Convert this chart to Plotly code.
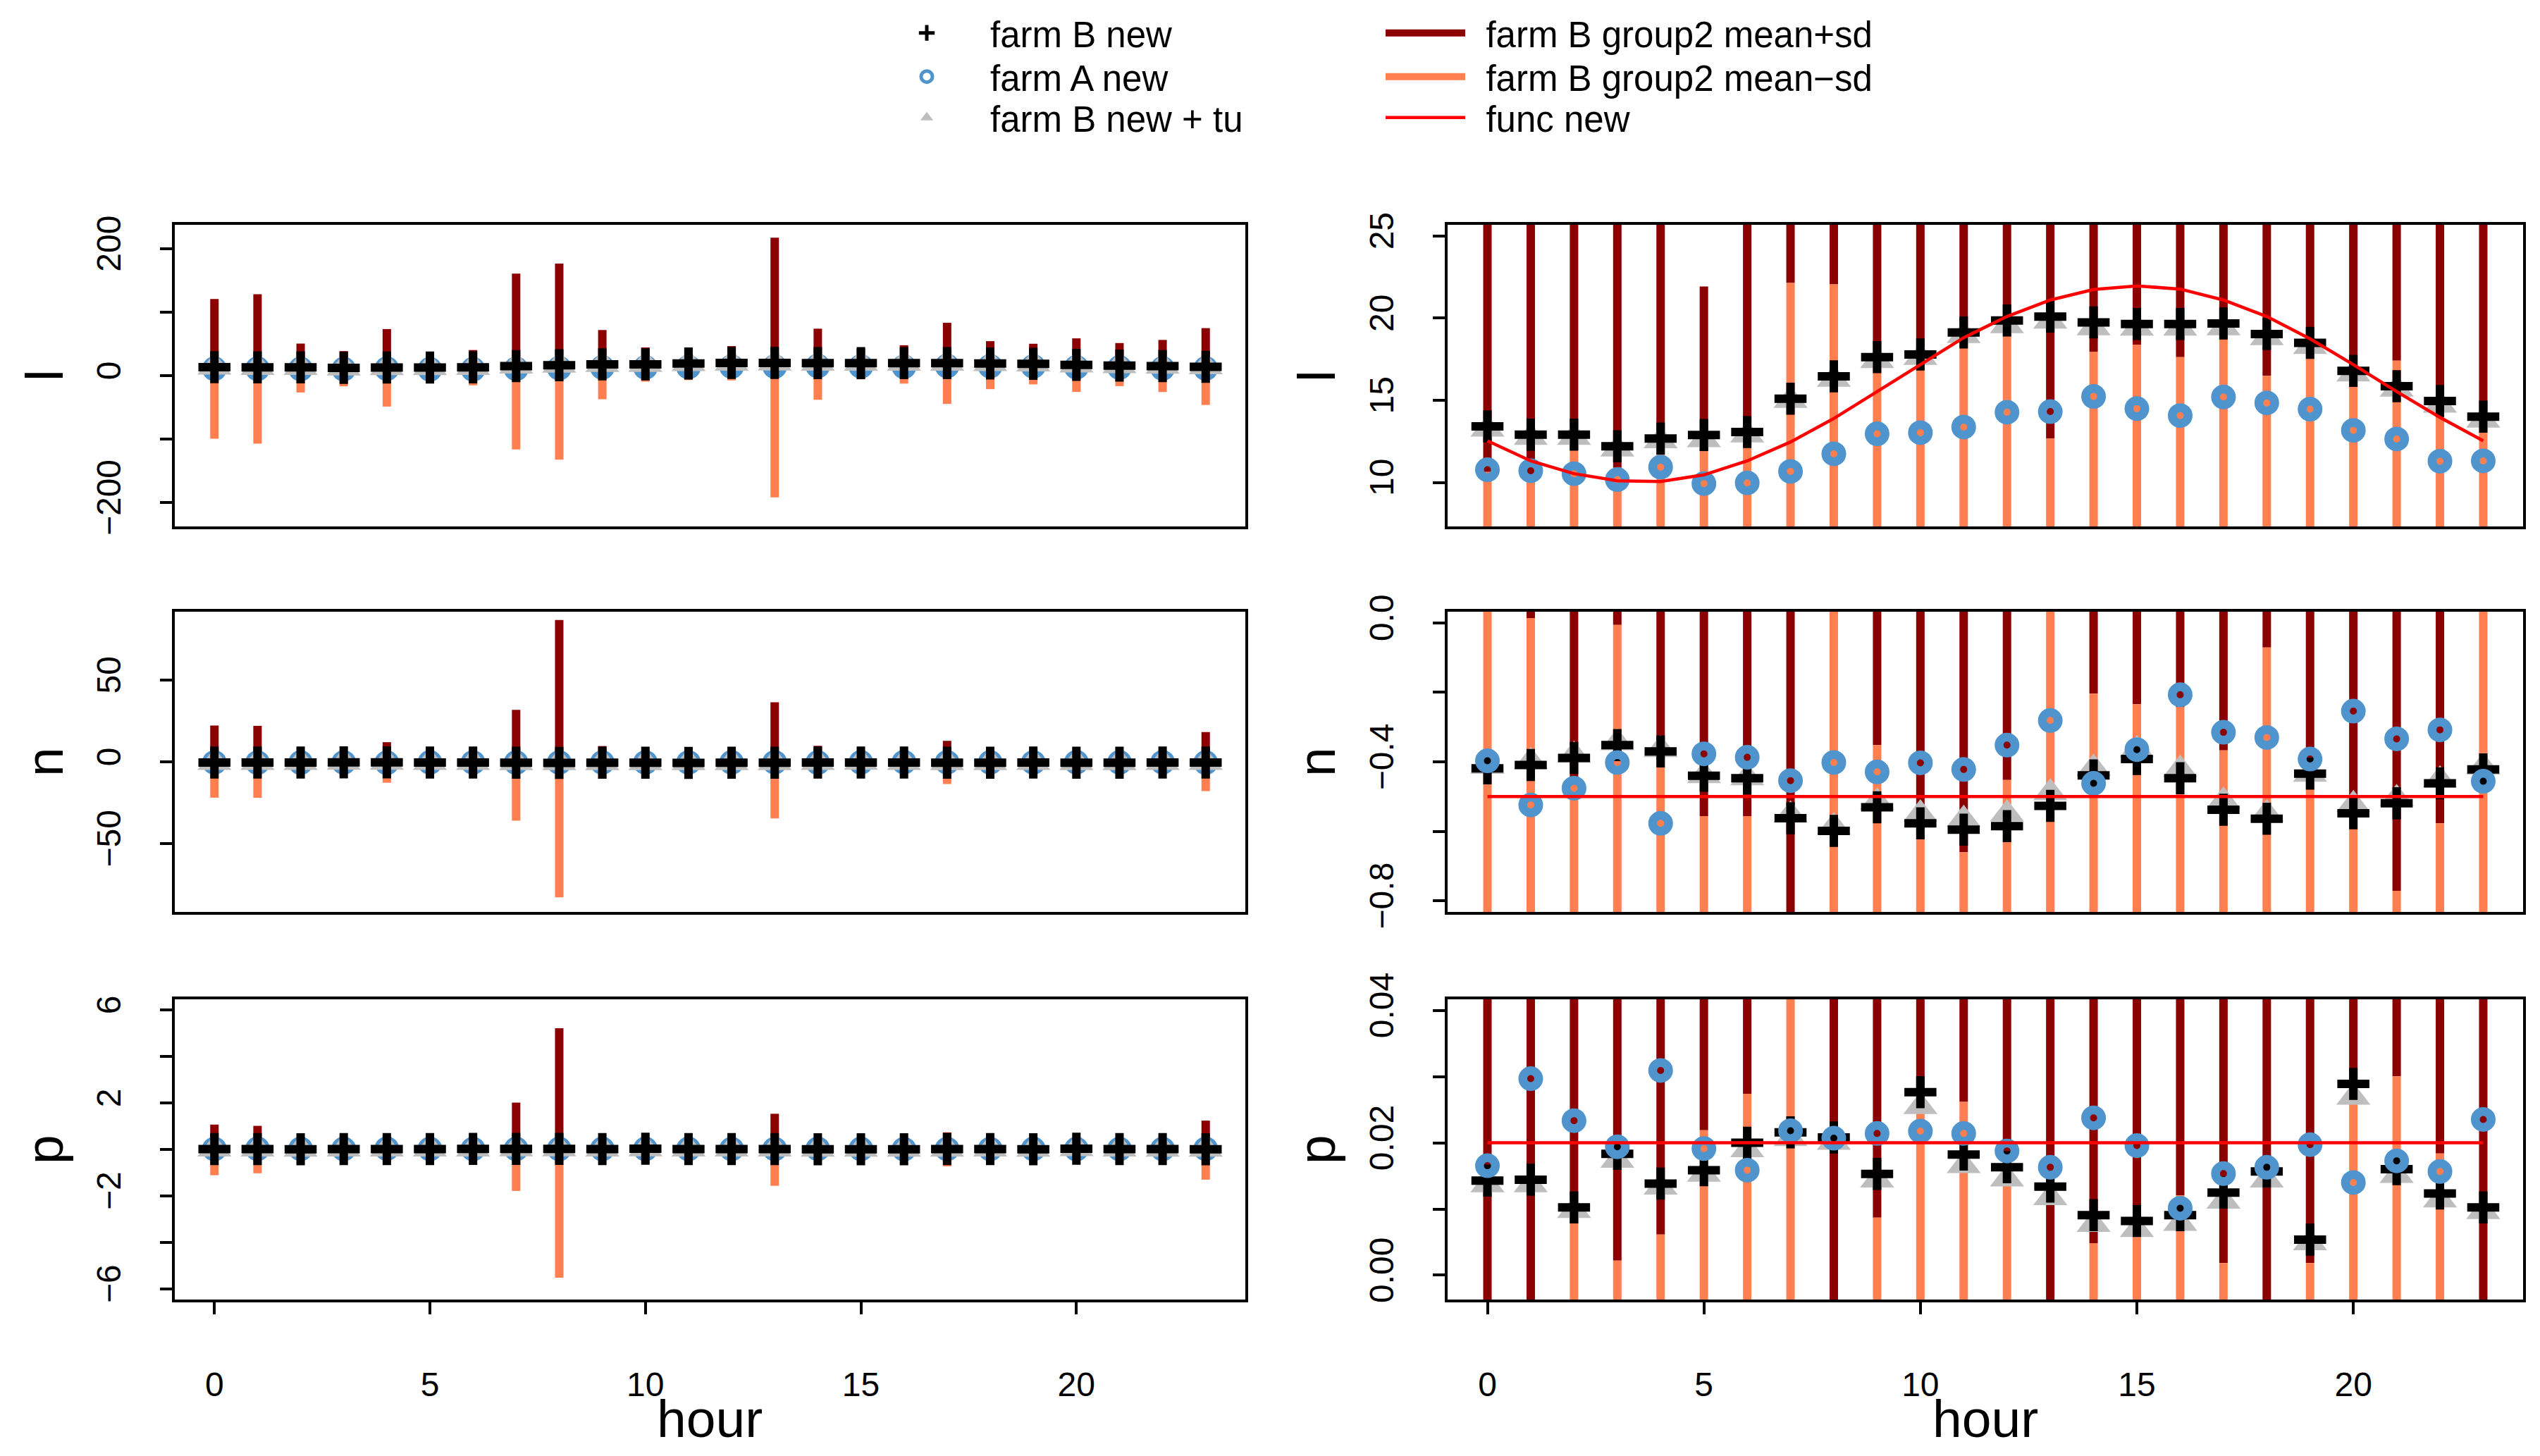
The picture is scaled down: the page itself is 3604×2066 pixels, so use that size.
import plotly.graph_objects as go

hours = list(range(24))

# ---------------- l ----------------
l_farmB_new = [13.41, 12.91, 12.91, 12.20, 12.67, 12.89, 13.07, 15.10, 16.46, 17.63, 17.79, 19.13,
               19.86, 20.09, 19.74, 19.64, 19.64, 19.67, 19.03, 18.50, 16.79, 15.86, 14.96, 14.00]
l_farmB_tu = [13.24, 12.74, 12.74, 12.03, 12.53, 12.60, 12.89, 14.99, 16.27, 17.41, 17.60, 18.93,
              19.53, 19.81, 19.41, 19.39, 19.39, 19.41, 18.81, 18.27, 16.60, 15.67, 14.70, 13.79]
l_farmA_new = [10.77, 10.71, 10.53, 10.17, 10.93, 9.93, 9.97, 10.67, 11.74, 12.96, 13.03, 13.37,
               14.27, 14.31, 15.23, 14.49, 14.07, 15.20, 14.84, 14.46, 13.17, 12.64, 11.29, 11.31]
l_func = [12.53, 11.31, 10.53, 10.10, 10.06, 10.46, 11.31, 12.46, 13.89, 15.53, 17.17, 18.81,
          20.10, 21.10, 21.74, 21.96, 21.77, 21.10, 20.10, 18.74, 17.17, 15.53, 13.96, 12.53]
l_g2_mean = [10.63, 10.46, 11.96, 10.89, 12.30, 11.89, 12.50, 22.14, 22.06, 17.30, 17.50, 18.60,
             19.50, 12.67, 17.96, 18.39, 17.63, 19.30, 16.49, 18.20, 16.50, 17.41, 15.20, 14.30]
l_g2_sd = [110.0, 117.6, 38.5, 27.8, 61.0, 10.04, 27.8, 138.4, 154.5, 54.5, 26.9, 25.6,
           27.0, 204.5, 56.0, 24.3, 30.2, 63.9, 37.8, 32.0, 42.2, 33.9, 41.0, 60.5]

# ---------------- n ----------------
n_farmB_new = [-0.419, -0.409, -0.389, -0.352, -0.370, -0.440, -0.447, -0.562, -0.599, -0.531, -0.577, -0.595,
               -0.585, -0.527, -0.439, -0.392, -0.447, -0.538, -0.564, -0.434, -0.548, -0.519, -0.462, -0.422]
n_farmB_tu = [-0.413, -0.399, -0.381, -0.345, -0.365, -0.440, -0.446, -0.553, -0.587, -0.516, -0.550, -0.566,
              -0.550, -0.489, -0.419, -0.365, -0.422, -0.513, -0.550, -0.436, -0.523, -0.506, -0.452, -0.415]
n_farmA_new = [-0.397, -0.524, -0.476, -0.402, -0.577, -0.377, -0.387, -0.454, -0.402, -0.429, -0.403, -0.422,
               -0.352, -0.281, -0.462, -0.365, -0.207, -0.315, -0.330, -0.392, -0.254, -0.334, -0.308, -0.456]
n_func = [-0.5, -0.5, -0.5, -0.5, -0.5, -0.5, -0.5, -0.5, -0.5, -0.5, -0.5, -0.5,
          -0.5, -0.5, -0.5, -0.5, -0.5, -0.5, -0.5, -0.5, -0.5, -0.5, -0.5, -0.5]
n_g2_mean = [0.15, 0.014, -0.45, -0.006, -0.39, -0.556, -0.556, -2.1, 1.9, -0.352, -0.55, -0.660,
             -0.452, 0.9, -0.204, -0.234, -0.243, -0.367, -0.071, -0.43, -0.55, -0.771, -0.577, 0.15]
n_g2_sd = [22.05, 22.0, 6.0, 5.0, 12.4, 4.0, 5.0, 33.9, 84.8, 10.0, 6.0, 4.0,
           5.0, 35.5, 10.0, 4.0, 6.0, 13.2, 5.0, 4.0, 6.0, 5.0, 7.0, 18.05]

# ---------------- p ----------------
p_farmB_new = [0.01429, 0.01443, 0.01023, 0.01834, 0.01383, 0.01587, 0.02000, 0.02159, 0.02081, 0.01531, 0.02765, 0.01824,
               0.01630, 0.01337, 0.00907, 0.00818, 0.00907, 0.01249, 0.01566, 0.00536, 0.02889, 0.01601, 0.01235, 0.01023]
p_farmB_tu = [0.01365, 0.01365, 0.00977, 0.01735, 0.01330, 0.01524, 0.01894, 0.02063, 0.02007, 0.01436, 0.02547, 0.01654,
              0.01453, 0.01171, 0.00765, 0.00688, 0.00783, 0.01118, 0.01436, 0.00490, 0.02688, 0.01506, 0.01136, 0.00960]
p_farmA_new = [0.01654, 0.02970, 0.02335, 0.01940, 0.03093, 0.01912, 0.01587, 0.02183, 0.02070, 0.02141, 0.02176, 0.02141,
               0.01877, 0.01630, 0.02377, 0.01958, 0.01012, 0.01534, 0.01630, 0.01972, 0.01400, 0.01728, 0.01566, 0.02353]
p_func = [0.02, 0.02, 0.02, 0.02, 0.02, 0.02, 0.02, 0.02, 0.02, 0.02, 0.02, 0.02,
          0.02, 0.02, 0.02, 0.02, 0.02, 0.02, 0.02, 0.02, 0.02, 0.02, 0.02, 0.02]
p_g2_mean = [-0.02, -0.005, 0.00783, 0.00219, 0.00614, 0.0219, 0.0274, 0.115, -0.15, 0.00871, 0.027, 0.0262,
             0.0175, -0.015, 0.00483, 0.006, 0.01206, 0.00183, -0.01, 0.00183, 0.027, 0.03005, 0.0184, -0.03]
p_g2_sd = [1.09, 1.02, 0.35, 0.30, 0.45, 0.40, 0.50, 1.90, 5.37, 0.30, 0.40, 0.35,
           0.50, 1.55, 0.30, 0.45, 0.40, 0.73, 0.40, 0.35, 0.50, 0.30, 0.40, 1.27]

# ---------------- axes: ranges and tick labels ----------------
x_range = [-0.92, 23.92]
x_tickvals = [0, 5, 10, 15, 20]
x_ticktext = ["0", "5", "10", "15", "20"]

l_left_range = [-237.5, 237.5]
l_left_tickvals = [-200, -100, 0, 100, 200]
l_left_ticktext = ["\u2212200", "", "0", "", "200"]
l_right_range = [7.32, 25.68]
l_right_tickvals = [10, 15, 20, 25]
l_right_ticktext = ["10", "15", "20", "25"]

n_left_range = [-91.8, 91.8]
n_left_tickvals = [-50, 0, 50]
n_left_ticktext = ["\u221250", "0", "50"]
n_right_range = [-0.832, 0.032]
n_right_tickvals = [-0.8, -0.6, -0.4, -0.2, 0.0]
n_right_ticktext = ["\u22120.8", "", "\u22120.4", "", "0.0"]

p_left_range = [-6.46, 6.46]
p_left_tickvals = [-6, -4, -2, 0, 2, 4, 6]
p_left_ticktext = ["\u22126", "", "\u22122", "", "2", "", "6"]
p_right_range = [-0.00368, 0.04168]
p_right_tickvals = [0.0, 0.01, 0.02, 0.03, 0.04]
p_right_ticktext = ["0.00", "", "0.02", "", "0.04"]

var_names = ["l", "n", "p"]
x_title = "hour"
legend_names = ["farm B new", "farm A new", "farm B new + tu",
                "farm B group2 mean+sd", "farm B group2 mean\u2212sd", "func new"]

DARKRED = "#8B0000"
CORAL = "#FF7F50"
BLUE = "#4F94CD"
GREY = "#BEBEBE"
RED = "#FF0000"
FONT = "Liberation Sans, Arial, Helvetica, sans-serif"

W, H = 3604, 2066
OFF = 8  # page body margin of the browser
def px_x(v):
    return (v - OFF) / W
def px_y(v):
    return 1 - (v - OFF) / H

col_dom = [(px_x(248), px_x(1767)), (px_x(2054), px_x(3580))]
row_dom = [(px_y(747), px_y(319)), (px_y(1294), px_y(868)), (px_y(1844), px_y(1418))]

rows = [
    dict(B=l_farmB_new, T=l_farmB_tu, A=l_farmA_new, f=l_func, m=l_g2_mean, s=l_g2_sd,
         axes=[(l_left_range, l_left_tickvals, l_left_ticktext), (l_right_range, l_right_tickvals, l_right_ticktext)]),
    dict(B=n_farmB_new, T=n_farmB_tu, A=n_farmA_new, f=n_func, m=n_g2_mean, s=n_g2_sd,
         axes=[(n_left_range, n_left_tickvals, n_left_ticktext), (n_right_range, n_right_tickvals, n_right_ticktext)]),
    dict(B=p_farmB_new, T=p_farmB_tu, A=p_farmA_new, f=p_func, m=p_g2_mean, s=p_g2_sd,
         axes=[(p_left_range, p_left_tickvals, p_left_ticktext), (p_right_range, p_right_tickvals, p_right_ticktext)]),
]

NB = "\u00a0\u2009"

fig = go.Figure()
layout = {}
k = 0
for r, row in enumerate(rows):
    for c in range(2):
        k += 1
        xa = "x" if k == 1 else f"x{k}"
        ya = "y" if k == 1 else f"y{k}"
        first = (k == 2)
        up_x, up_y, lo_x, lo_y = [], [], [], []
        for h, m, s in zip(hours, row["m"], row["s"]):
            up_x += [h, h, None]
            up_y += [m, m + s, None]
            lo_x += [h, h, None]
            lo_y += [m - s, m, None]
        seg_up = go.Scatter(x=up_x, y=up_y, mode="lines", xaxis=xa, yaxis=ya,
                            line=dict(color=DARKRED, width=12),
                            name=NB + legend_names[3], legend="legend4",
                            showlegend=first, hoverinfo="skip")
        seg_lo = go.Scatter(x=lo_x, y=lo_y, mode="lines", xaxis=xa, yaxis=ya,
                            line=dict(color=CORAL, width=12),
                            name=NB + legend_names[4], legend="legend5",
                            showlegend=first, hoverinfo="skip")
        tri = go.Scatter(x=hours, y=row["T"], mode="markers", xaxis=xa, yaxis=ya,
                         marker=dict(symbol="triangle-up", size=42, color=GREY, line=dict(width=0)),
                         name=legend_names[2], legend="legend3", showlegend=first)
        plus = go.Scatter(x=hours, y=row["B"], mode="markers", xaxis=xa, yaxis=ya,
                          marker=dict(symbol="cross-thin", size=32.5, color="black",
                                      line=dict(width=12, color="black")),
                          name=legend_names[0], legend="legend", showlegend=first)
        circ = go.Scatter(x=hours, y=row["A"], mode="markers", xaxis=xa, yaxis=ya,
                          marker=dict(symbol="circle-open", size=22.5, color=BLUE,
                                      line=dict(width=12.5, color=BLUE)),
                          name=legend_names[1], legend="legend2", showlegend=first)
        if c == 0:
            for t in (seg_up, seg_lo, circ, tri, plus):
                fig.add_trace(t)
        else:
            for t in (seg_up, seg_lo, tri, plus, circ):
                fig.add_trace(t)
            fig.add_trace(go.Scatter(x=hours, y=row["f"], mode="lines", xaxis=xa, yaxis=ya,
                                     line=dict(color=RED, width=4.5),
                                     name=NB + legend_names[5], legend="legend6",
                                     showlegend=first))
        rng, tv, tt = row["axes"][c]
        bottom = (r == 2)
        layout["xaxis" if k == 1 else f"xaxis{k}"] = dict(
            domain=col_dom[c], anchor=ya, range=x_range, showgrid=False, zeroline=False,
            showline=True, mirror=True, linecolor="black", linewidth=4,
            ticks="outside" if bottom else "", ticklen=17, tickwidth=4, tickcolor="black",
            tickvals=x_tickvals, ticktext=x_ticktext, showticklabels=bottom, automargin=False,
            tickfont=dict(size=48, family=FONT, color="black"), ticklabelstandoff=58)
        layout["yaxis" if k == 1 else f"yaxis{k}"] = dict(
            domain=row_dom[r], anchor=xa, range=rng, showgrid=False, zeroline=False,
            showline=True, mirror=True, linecolor="black", linewidth=4,
            ticks="outside", ticklen=17, tickwidth=4, tickcolor="black",
            tickvals=tv, ticktext=tt, tickangle=-90, automargin=False,
            tickfont=dict(size=48, family=FONT, color="black"), ticklabelstandoff=37)

annotations = []
for r, name in enumerate(var_names):
    yc = (row_dom[r][0] + row_dom[r][1]) / 2
    for xc in (px_x(63), px_x(1868)):
        annotations.append(dict(text=name, x=xc, y=yc, xref="paper", yref="paper",
                                xanchor="center", yanchor="middle", textangle=-90, showarrow=False,
                                font=dict(size=75, family=FONT, color="black")))
for c in range(2):
    annotations.append(dict(text=x_title, x=(col_dom[c][0] + col_dom[c][1]) / 2, y=px_y(2013),
                            xref="paper", yref="paper", xanchor="center", yanchor="middle",
                            showarrow=False, font=dict(size=75, family=FONT, color="black")))

def leg(xs, ys, iw):
    return dict(x=px_x(xs), y=px_y(ys), xanchor="left", yanchor="top",
                font=dict(size=51, family=FONT, color="black"), bgcolor="rgba(0,0,0,0)",
                itemsizing="trace", tracegroupgap=0, itemwidth=iw)

fig.update_layout(
    **layout,
    width=W, height=H,
    margin=dict(l=0, r=0, t=0, b=0, autoexpand=False),
    paper_bgcolor="white", plot_bgcolor="white",
    font=dict(family=FONT, color="black"),
    annotations=annotations,
    legend=leg(1225, 7, 170),
    legend2=leg(1225, 69, 170),
    legend3=leg(1225, 127, 170),
    legend4=leg(1961, 7, 113),
    legend5=leg(1961, 69, 113),
    legend6=leg(1961, 127, 113),
    showlegend=True,
)

fig.write_html("out.html")
